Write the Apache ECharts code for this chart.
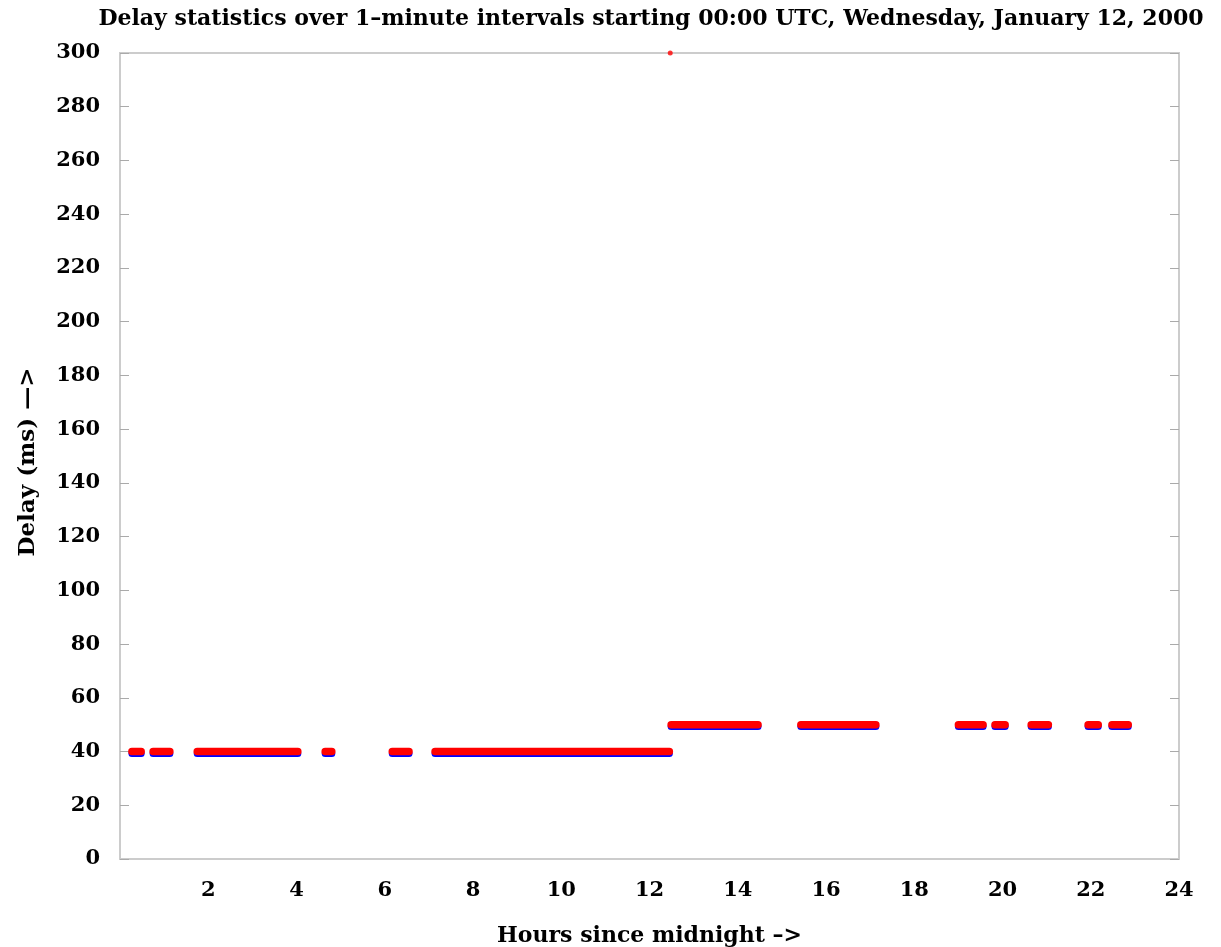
<!DOCTYPE html>
<html>
<head>
<meta charset="utf-8">
<script src="https://cdn.jsdelivr.net/npm/echarts@6/dist/echarts.min.js"></script>
<style>
  html, body { margin: 0; padding: 0; background: #fff; }
  #chart { width: 1221px; height: 947px; }
</style>
</head>
<body>
<div id="chart"></div>
<script>
// runs of 1-minute samples (hours since midnight)
const runStart = [0.27, 0.75, 1.75, 4.65, 6.17, 7.14, 12.49, 15.43, 19.0, 19.83, 20.65, 21.94, 22.48];
const runEnd = [0.48, 1.13, 4.03, 4.8, 6.55, 12.45, 14.46, 17.13, 19.56, 20.06, 21.04, 22.17, 22.85];
const redDelay = [40, 40, 40, 40, 40, 40, 50, 50, 50, 50, 50, 50, 50];
const blueDelay = [39.3, 39.3, 39.3, 39.3, 39.3, 39.3, 49.3, 49.3, 49.3, 49.3, 49.3, 49.3, 49.3];
const spikeHour = [12.47];
const spikeDelay = [300];

const xTicks = [2, 4, 6, 8, 10, 12, 14, 16, 18, 20, 22, 24];

const font = 'DejaVu Serif';

function runs(values) {
  const out = [];
  runStart.forEach((s, i) => {
    if (i > 0) out.push('-');
    out.push([s, values[i]]);
    out.push([runEnd[i], values[i]]);
  });
  return out;
}

const chart = echarts.init(document.getElementById('chart'));

const option = {
  animation: false,
  backgroundColor: '#fff',
  title: {
    text: 'Delay statistics over 1\u2013minute intervals starting 00:00 UTC, Wednesday, January 12, 2000',
    left: 646,
    top: 3,
    textAlign: 'center',
    textStyle: { fontFamily: font, fontWeight: 'bold', fontSize: 22, color: '#000' }
  },
  grid: {
    left: 120, right: 42, top: 53, bottom: 88,
    outerBoundsMode: 'none',
    containLabel: false,
    show: true, borderColor: '#cccccc', borderWidth: 2
  },
  xAxis: {
    type: 'value',
    min: 0, max: 24, interval: 2,
    name: 'Hours since midnight \u2013>',
    nameLocation: 'middle',
    nameGap: 66,
    nameTextStyle: { fontFamily: font, fontWeight: 'bold', fontSize: 22, color: '#000' },
    axisLine: { show: true, lineStyle: { color: '#cccccc', width: 2 } },
    axisTick: { show: false },
    splitLine: { show: false },
    axisLabel: {
      margin: 21,
      fontFamily: font, fontWeight: 'bold', fontSize: 21, color: '#000',
      formatter: v => (xTicks.includes(v) ? String(v) : '')
    }
  },
  yAxis: [
    {
      type: 'value',
      min: 0, max: 300, interval: 20,
      name: 'Delay (ms) \u2014>',
      nameLocation: 'middle',
      nameGap: 80,
      nameTextStyle: { fontFamily: font, fontWeight: 'bold', fontSize: 23, color: '#000', padding: [0, 12, 0, 0] },
      axisLine: { show: true, lineStyle: { color: '#cccccc', width: 2 } },
      axisTick: { show: true, inside: true, length: 9, lineStyle: { color: '#aaaaaa' } },
      splitLine: { show: false },
      axisLabel: { margin: 20, fontFamily: font, fontWeight: 'bold', fontSize: 21, color: '#000' }
    },
    {
      type: 'value',
      position: 'right',
      min: 0, max: 300, interval: 20,
      axisLine: { show: true, lineStyle: { color: '#cccccc', width: 2 } },
      axisTick: { show: true, inside: true, length: 9, lineStyle: { color: '#aaaaaa' } },
      splitLine: { show: false },
      axisLabel: { show: false }
    }
  ],
  series: [
    {
      name: 'min',
      type: 'line',
      data: runs(blueDelay),
      symbol: 'none',
      lineStyle: { color: '#0000ff', width: 7, cap: 'round' },
      z: 2
    },
    {
      name: 'delay',
      type: 'line',
      data: runs(redDelay),
      symbol: 'none',
      lineStyle: { color: '#ff0000', width: 7.5, cap: 'round' },
      z: 3
    },
    {
      name: 'spike',
      type: 'scatter',
      data: spikeHour.map((h, i) => [h, spikeDelay[i]]),
      symbolSize: 5,
      itemStyle: { color: '#ff0000' },
      clip: false,
      z: 4
    }
  ]
};

chart.setOption(option);
</script>
</body>
</html>
